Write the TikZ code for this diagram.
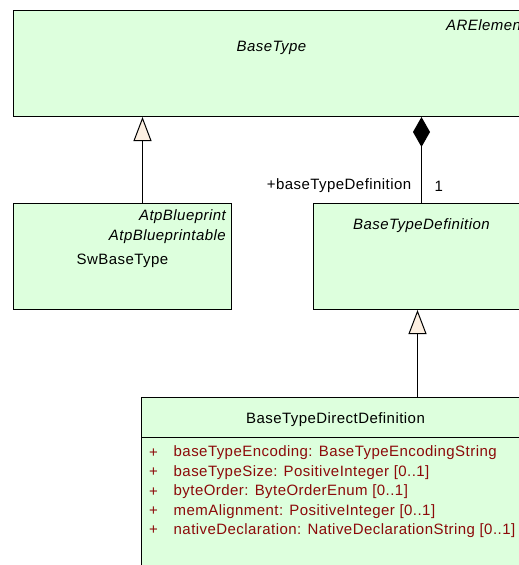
\documentclass[tikz,border=0pt]{standalone}
\usepackage{fontspec}
\setmainfont{Liberation Sans}[LetterSpace=3]
\usetikzlibrary{arrows.meta,positioning,calc}
\definecolor{clsfill}{RGB}{221,255,221}
\definecolor{genfill}{RGB}{253,240,226}
\definecolor{attrred}{RGB}{140,10,10}
\tikzset{
  x=1pt,y=-1pt,
  cls/.style={draw=black,fill=clsfill,line width=1pt,anchor=north west,
    inner sep=0pt},
  lbl/.style={font=\fontsize{15}{17}\selectfont,inner sep=0pt},
  stereo/.style={font=\fontsize{15}{17}\selectfont\itshape,inner sep=0pt},
  attr/.style={lbl,text=attrred,anchor=west},
  gen/.style={-{Triangle[length=24pt,width=18pt,fill=genfill]},line width=1pt},
  comp/.style={{Diamond[length=30pt,width=17pt]}-,line width=1pt},
}

\begin{document}
\begin{tikzpicture}
  \useasboundingbox (0,0) rectangle (519,565);
  \clip (0,0) rectangle (519,565);
  % classes
  \node[cls,minimum width=516pt,minimum height=106pt] (basetype) at (13,10) {};
  \node[cls,minimum width=218pt,minimum height=106pt] (swbase) at (13,203) {};
  \node[cls,minimum width=216pt,minimum height=106pt] (bdef) at (313,203) {};
  \node[cls,minimum width=388pt,minimum height=200pt] (bddef) at (141,397) {};
  \draw[line width=1pt] ([yshift=-40pt]bddef.north west)
    -- ([yshift=-40pt]bddef.north east);
  % class texts
  \node[stereo,anchor=west] (arelem) at (446,25) {ARElement};
  \node[stereo] (basetypename) at ([yshift=-38pt]basetype.north) {BaseType};
  \node[stereo,anchor=east] (atpbp) at ([xshift=-6pt,yshift=-14pt]swbase.north east) {AtpBlueprint};
  \node[stereo,anchor=east] (atpbpable) at ([xshift=-6pt,yshift=-34pt]swbase.north east) {AtpBlueprintable};
  \node[lbl] (swbasename) at ([yshift=-58pt]swbase.north) {SwBaseType};
  \node[stereo] (bdefname) at ([yshift=-23pt]bdef.north) {BaseTypeDefinition};
  \node[lbl] (bddefname) at ([yshift=-23pt]bddef.north) {BaseTypeDirectDefinition};
  % attributes
  \foreach \attrtext [count=\i from 0] in {{baseTypeEncoding: BaseTypeEncodingString},
      {baseTypeSize: PositiveInteger [0..1]},
      {byteOrder: ByteOrderEnum [0..1]},
      {memAlignment: PositiveInteger [0..1]},
      {nativeDeclaration: NativeDeclarationString [0..1]}} {
    \node[attr] (attrplus\i) at (149,453+19.4*\i) {+};
    \node[attr] (attr\i) at (173.5,453+19.4*\i) {\attrtext};
  }
  % relations
  \draw[gen] ([xshift=20pt]swbase.north) -- ([xshift=20pt]swbase.north |- basetype.south);
  \draw[comp] (bdef.north |- basetype.south) -- (bdef.north);
  \node[lbl,anchor=east] (rolename) at ([xshift=-10pt,yshift=17pt]bdef.north) {+baseTypeDefinition};
  \node[lbl,anchor=west] (mult) at ([xshift=13pt,yshift=17pt]bdef.north) {1};
  \draw[gen] ([xshift=-4pt]bdef.south |- bddef.north) -- ([xshift=-4pt]bdef.south);
\end{tikzpicture}
\end{document}
